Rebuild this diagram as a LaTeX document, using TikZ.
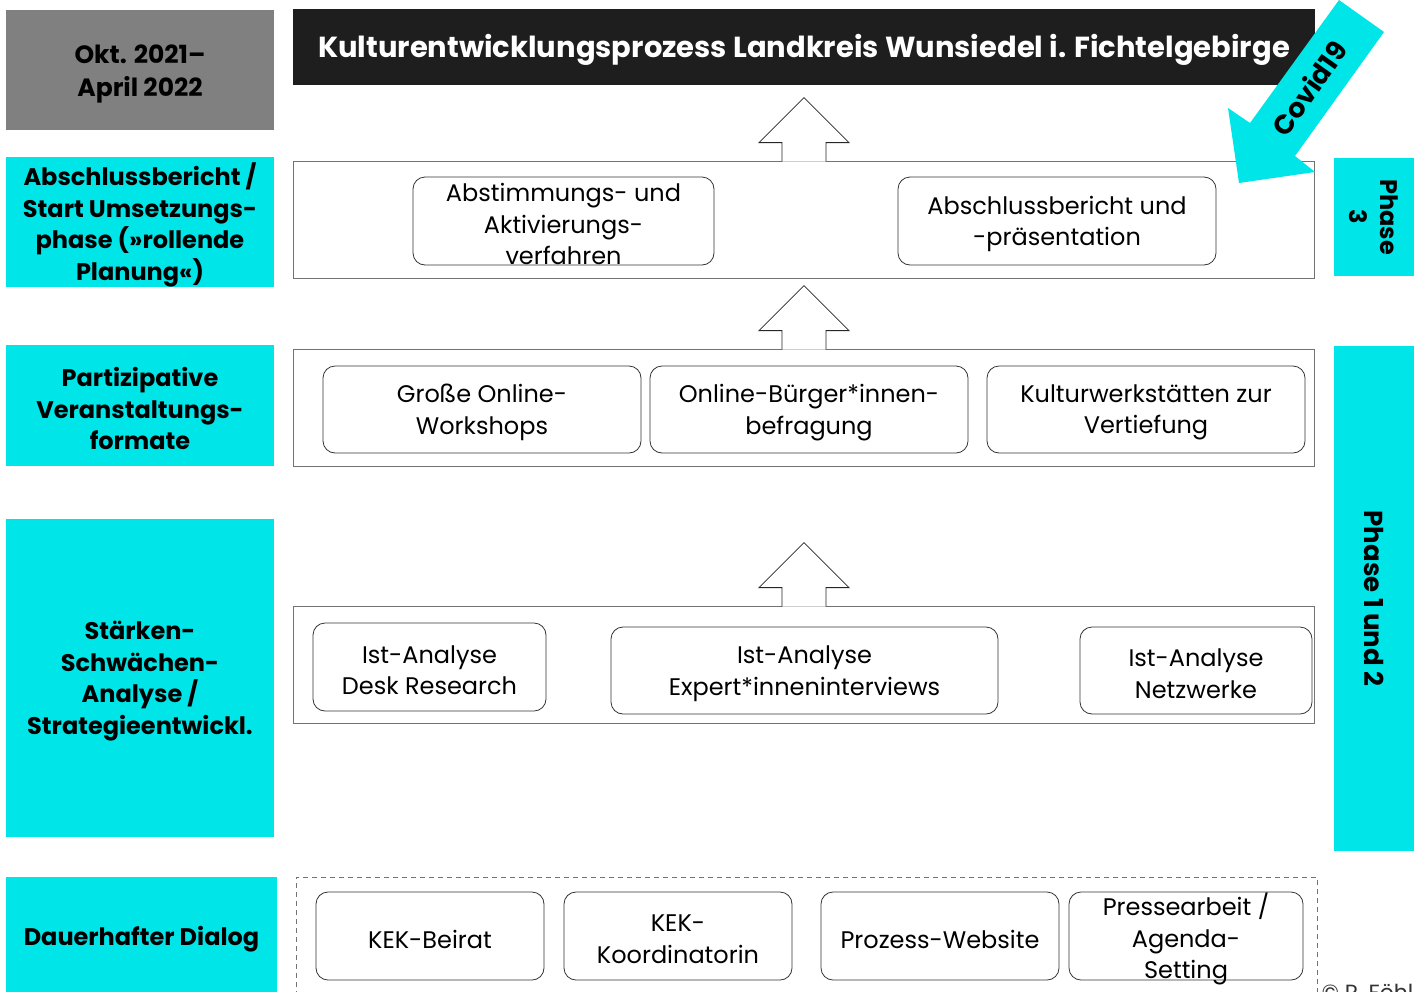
\documentclass[tikz,border=0pt]{standalone}
\usepackage{fontspec}
\setmainfont{Poppins}
\usetikzlibrary{positioning}
\definecolor{kekcyan}{HTML}{00E5E8}
\definecolor{kekgray}{HTML}{808080}
\definecolor{kekdark}{HTML}{1E1E1E}
\tikzstyle{sidebox} = [fill=kekcyan, inner sep=0pt]
\tikzstyle{sidetext} = [inner sep=0pt, align=center, font=\bfseries\fontsize{24}{31.5}\selectfont]
\tikzstyle{panel} = [draw=black!55, fill=white, line width=0.8pt, inner sep=0pt]
\tikzstyle{task} = [draw=black!80, fill=white, rounded corners=12pt, line width=0.8pt, inner sep=0pt]
\tikzstyle{tasktext} = [inner sep=0pt, align=center, font=\fontsize{24}{31.5}\selectfont]
\tikzstyle{uparrow} = [draw=black!85, fill=white, line width=0.8pt]
\newcommand{\taskbox}[5]{\node [task, minimum width=#3pt, minimum height=#4pt] (#1) at (#2) {};
    \node [tasktext, yshift=-3pt] (#1-text) at (#1.center) {#5};}
\newcommand{\sidelabel}[5]{\node [sidebox, minimum width=#3pt, minimum height=#4pt] (#1) at (#2) {};
    \node [sidetext, yshift=-3pt] (#1-text) at (#1.center) {#5};}

\begin{document}
\begin{tikzpicture}[x=1pt,y=-1pt]
            \useasboundingbox (0,0) rectangle (1424,991);
            \clip (0,0) rectangle (1424,991);
            % top row
            \node [fill=kekgray, minimum width=268pt, minimum height=120pt, inner sep=0pt] (period) at (140,70) {};
            \node [sidetext, font=\bfseries\fontsize{25}{33}\selectfont, yshift=-4pt] (period-text) at (period.center) {Okt. 2021--\\April 2022};
            \node [fill=kekdark, minimum width=1022pt, minimum height=76pt, inner sep=0pt] (title) at (804,47) {};
            \node [text=white, inner sep=0pt, font=\bfseries\fontsize{29}{33}\selectfont, yshift=-3pt] (title-text) at (title.center) {Kulturentwicklungsprozess Landkreis Wunsiedel i. Fichtelgebirge};
            % left column
            \sidelabel{s3}{140,222}{268}{130}{Abschlussbericht /\\Start Umsetzungs-\\phase (»rollende\\Planung«)}
            \sidelabel{s2}{140,405.5}{268}{121}{Partizipative\\Veranstaltungs-\\formate}
            \sidelabel{s1}{140,678}{268}{318}{Stärken-\\Schwächen-\\Analyse /\\Strategieentwickl.}
            \sidelabel{s0}{141.5,936}{271}{118}{Dauerhafter Dialog}
            % right column
            \node [sidebox, minimum width=80pt, minimum height=118pt] (p3) at (1374,217) {};
            \node [sidetext, rotate=-90] (p3-text) at (p3.center) {Phase\\3};
            \node [sidebox, minimum width=80pt, minimum height=505pt] (p12) at (1374,598.5) {};
            \node [sidetext, rotate=-90, font=\bfseries\fontsize{26}{31.5}\selectfont] (p12-text) at (p12.center) {Phase 1 und 2};
            % panels
            \node [panel, minimum width=1021pt, minimum height=117pt] (panel3) at (803.5,219.5) {};
            \node [panel, minimum width=1021pt, minimum height=117pt] (panel2) at (803.5,407.5) {};
            \node [panel, minimum width=1021pt, minimum height=117pt] (panel1) at (803.5,664.5) {};
            \node [panel, dashed, dash pattern=on 5pt off 4pt, minimum width=1021pt, minimum height=130pt] (panel0) at (806.5,942) {};
            \foreach \p in {panel3,panel2,panel1} {
                \draw [uparrow] ([xshift=-22pt,yshift=-1pt]\p.north -| 804,0) -- ++(0,-19) -- ++(-23,0)
                    -- ++(45,-45) -- ++(45,45) -- ++(-23,0) -- ++(0,19);
            }
            % tasks
            \taskbox{abst}{563.5,221}{301}{88}{Abstimmungs- und\\Aktivierungs-\\verfahren}
            \taskbox{abschl}{1057,221}{318}{88}{Abschlussbericht und\\-präsentation}
            \taskbox{online}{482,409.5}{318}{87}{Große Online-\\Workshops}
            \taskbox{befr}{809,409.5}{318}{87}{Online-Bürger*innen-\\befragung}
            \taskbox{werk}{1146,409.5}{318}{87}{Kulturwerkstätten zur\\Vertiefung}
            \taskbox{desk}{429.5,667}{233}{88}{Ist-Analyse\\Desk Research}
            \taskbox{expert}{804.5,670.5}{387}{87}{Ist-Analyse\\Expert*inneninterviews}
            \taskbox{netz}{1196,670.5}{232}{87}{Ist-Analyse\\Netzwerke}
            \taskbox{beirat}{430,936}{228}{88}{KEK-Beirat}
            \taskbox{koord}{678,936}{228}{88}{KEK-\\Koordinatorin}
            \taskbox{web}{940,936}{238}{88}{Prozess-Website}
            \taskbox{presse}{1186,936}{234}{88}{Pressearbeit /\\Agenda-\\Setting}
            % covid arrow
            \fill [kekcyan] (1339,0) -- (1384,32) -- (1295,156) -- (1315,172) -- (1239,183)
                -- (1228,108) -- (1250,123) -- cycle;
            \node [rotate=54.7, inner sep=0pt, font=\bfseries\fontsize{27}{30}\selectfont] (covid) at (1309,88) {Covid19};
            \node [anchor=base west, font=\fontsize{22}{26}\selectfont, text=black!80] (copy) at (1318,1000) {© R. Föhl};
\end{tikzpicture}
\end{document}
